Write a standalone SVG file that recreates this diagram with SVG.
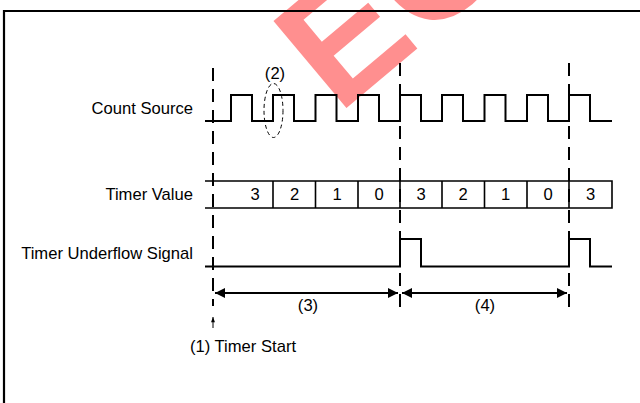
<svg xmlns="http://www.w3.org/2000/svg" width="640" height="403" viewBox="0 0 640 403">
<defs>
<style>
text{font-family:"Liberation Sans",Arial,sans-serif;font-size:16.6px;fill:#000}
.lbl{text-anchor:end}
.mid{text-anchor:middle}
.sig{fill:none;stroke:#000;stroke-width:2}
.box{fill:none;stroke:#000;stroke-width:1.6}
.dash{fill:none;stroke:#000;stroke-width:2;stroke-dasharray:13,8}
.dim{fill:none;stroke:#000;stroke-width:2.2}
</style>
<marker id="ah" viewBox="0 0 10 10" refX="10" refY="5" markerWidth="10" markerHeight="10" markerUnits="userSpaceOnUse" orient="auto-start-reverse">
<path d="M0,0 L10,5 L0,10 Z" fill="#000"/>
</marker>
<marker id="sah" viewBox="0 0 6 8" refX="3" refY="0" markerWidth="4" markerHeight="6" markerUnits="userSpaceOnUse" orient="0">
<path d="M0,8 L3,0 L6,8 Z" fill="#000"/>
</marker>
</defs>
<rect width="640" height="403" fill="#fff"/>
<text id="watermark" transform="translate(338,115) rotate(-40)" style="font-size:165px;font-weight:bold;fill:#ff2020;fill-opacity:0.5">EC</text>
<path d="M4,403 V11 H640" fill="none" stroke="#000" stroke-width="2.2"/>
<g id="labels">
<text class="lbl" x="193" y="114">Count Source</text>
<text class="lbl" x="193" y="200">Timer Value</text>
<text class="lbl" x="193" y="259">Timer Underflow Signal</text>
</g>
<g id="connectors">
<path class="dash" d="M213,68 V306"/>
<path class="dash" d="M400,63 V311"/>
<path class="dash" d="M569,63 V311"/>
<line class="dim" x1="215" y1="293" x2="398" y2="293" marker-start="url(#ah)" marker-end="url(#ah)"/>
<line class="dim" x1="402" y1="293" x2="567" y2="293" marker-start="url(#ah)" marker-end="url(#ah)"/>
<line x1="213" y1="328" x2="213" y2="317" stroke="#000" stroke-width="1" marker-end="url(#sah)"/>
</g>
<g id="count-source">
<path class="sig" d="M205,121 H231 V95 H252 V121 H273 V95 H294 V121 H315.5 V95 H336.5 V121 H358 V95 H379 V121 H400 V95 H421 V121 H442 V95 H463 V121 H484.5 V95 H505.5 V121 H527 V95 H548 V121 H569 V95 H590 V121 H612"/>
<ellipse cx="273.5" cy="110.5" rx="9.5" ry="27" fill="none" stroke="#000" stroke-width="1" stroke-dasharray="4,3"/>
<text class="mid" x="275" y="79">(2)</text>
</g>
<g id="timer-value">
<path class="box" d="M205,181 H612 V208 H205 M273,181 V208 M315.5,181 V208 M358,181 V208 M400,181 V208 M442,181 V208 M484.5,181 V208 M527,181 V208 M569,181 V208"/>
<text class="mid" x="255" y="200">3</text>
<text class="mid" x="294.5" y="200">2</text>
<text class="mid" x="337" y="200">1</text>
<text class="mid" x="379" y="200">0</text>
<text class="mid" x="421" y="200">3</text>
<text class="mid" x="463" y="200">2</text>
<text class="mid" x="505.5" y="200">1</text>
<text class="mid" x="548" y="200">0</text>
<text class="mid" x="590.5" y="200">3</text>
</g>
<g id="underflow">
<path class="sig" d="M205,266.5 H400 V239 H421 V266.5 H569 V239 H590 V266.5 H612"/>
</g>
<g id="annotations">
<text class="mid" x="308" y="311">(3)</text>
<text class="mid" x="485" y="311">(4)</text>
<text x="190" y="352">(1) Timer Start</text>
</g>
</svg>
